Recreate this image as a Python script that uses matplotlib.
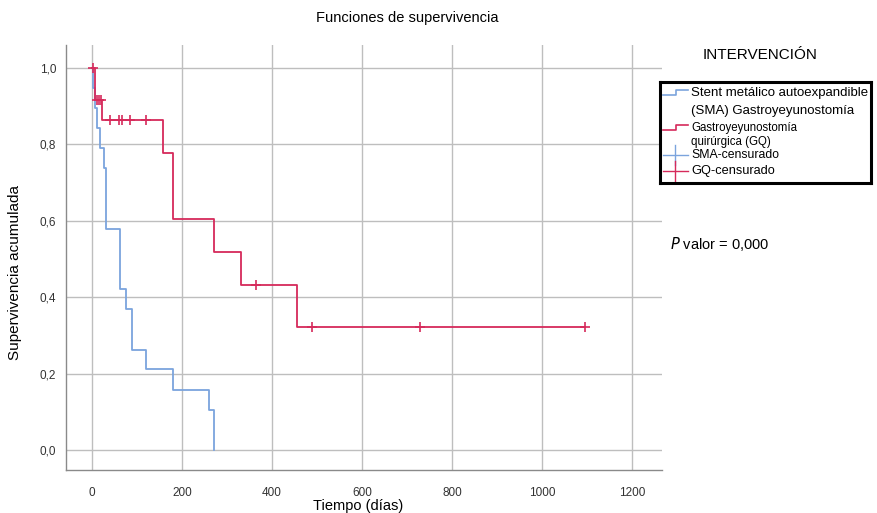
import numpy as np
import matplotlib
matplotlib.use('Agg')
import matplotlib.pyplot as plt

plt.rcParams['font.family'] = ['Liberation Sans', 'DejaVu Sans']

# Kaplan-Meier steps
sma_t = [0, 3, 6, 12, 17, 27, 30, 62, 75, 89, 120, 180, 260, 271]
sma_s = [1.0, 0.947, 0.895, 0.842, 0.789, 0.737, 0.579, 0.421, 0.368, 0.263, 0.211, 0.158, 0.105, 0.0]

gq_t = [0, 6, 23, 157, 180, 270, 330, 455, 1095]
gq_s = [1.0, 0.916, 0.864, 0.776, 0.603, 0.517, 0.431, 0.323, 0.323]

gq_cens_t = [2, 11, 15, 19, 40, 61, 66, 85, 120, 364, 489, 730, 1095]
gq_cens_s = [1.0, 0.916, 0.916, 0.916, 0.864, 0.864, 0.864, 0.864, 0.864, 0.431, 0.323, 0.323, 0.323]

xticks = [0, 200, 400, 600, 800, 1000, 1200]
yticks = [0.0, 0.2, 0.4, 0.6, 0.8, 1.0]
ytick_labels = ['0,0', '0,2', '0,4', '0,6', '0,8', '1,0']

blue = '#7BA4DD'
red = '#D62A5B'
grid_c = '#BEBEBE'

fig = plt.figure(figsize=(8.77, 5.13), dpi=100)
ax = fig.add_axes([66/877, 43/513, 596/877, 425/513])

ax.step(sma_t, sma_s, where='post', color=blue, lw=1.3)
ax.step(gq_t, gq_s, where='post', color=red, lw=1.3)
ax.plot(gq_cens_t, gq_cens_s, '+', color=red, ms=7, mew=1.2)

ax.set_xlim(-57.8, 1266.7)
ax.set_ylim(-0.052, 1.059)
ax.set_xticks(xticks)
ax.set_yticks(yticks)
ax.set_yticklabels(ytick_labels)
ax.tick_params(length=0, labelsize=8.5, colors='#333333')
ax.tick_params(axis='x', pad=12)
ax.tick_params(axis='y', pad=7)
ax.grid(True, color=grid_c, lw=1)
ax.set_axisbelow(True)
for s in ['top', 'right']:
    ax.spines[s].set_visible(False)
for s in ['left', 'bottom']:
    ax.spines[s].set_color('#8A8A8A')
    ax.spines[s].set_linewidth(1)

ax.set_xlabel('Tiempo (días)', fontsize=10.5)
ax.xaxis.set_label_coords(292/596, -29/425)
ax.set_ylabel('Supervivencia acumulada', fontsize=11)
ax.yaxis.set_label_coords(-44/596, 198/425)

fig.text(407/877, 1 - 18/513, 'Funciones de supervivencia', ha='center', va='center', fontsize=10.5)
fig.text(760/877, 1 - 55/513, 'INTERVENCIÓN', ha='center', va='center', fontsize=11)
fig.text(670/877, 1 - 244/513, r'$\it{P}$ valor = 0,000', ha='left', va='center', fontsize=10.5)

# legend box drawn by hand
lg = fig.add_axes([660/877, 1 - 183/513, 211/877, 101/513])
lg.set_xlim(660, 871)
lg.set_ylim(183, 82)
lg.set_xticks([])
lg.set_yticks([])
for s in lg.spines.values():
    s.set_linewidth(2.2)
    s.set_color('black')

lg.plot([663, 676, 676, 688], [95, 95, 90, 90], color=blue, lw=1.2)
lg.plot([663, 676, 676, 688], [130, 130, 125, 125], color=red, lw=1.2)
lg.plot([663, 688], [155, 155], color=blue, lw=1.0)
lg.plot([675.5, 675.5], [145, 165], color=blue, lw=1.0)
lg.plot([663, 688], [171, 171], color=red, lw=1.0)
lg.plot([675.5, 675.5], [161, 181], color=red, lw=1.0)

lg.text(691, 93, 'Stent metálico autoexpandible', va='center', fontsize=9.5)
lg.text(691, 111, '(SMA) Gastroyeyunostomía', va='center', fontsize=9.5)
lg.text(691, 128, 'Gastroyeyunostomía', va='center', fontsize=8.3)
lg.text(691, 142, 'quirúrgica (GQ)', va='center', fontsize=8.3)
lg.text(691, 155, 'SMA-censurado', va='center', fontsize=8.8)
lg.text(691, 171, 'GQ-censurado', va='center', fontsize=9.2)

fig.savefig('out.png', dpi=100)
